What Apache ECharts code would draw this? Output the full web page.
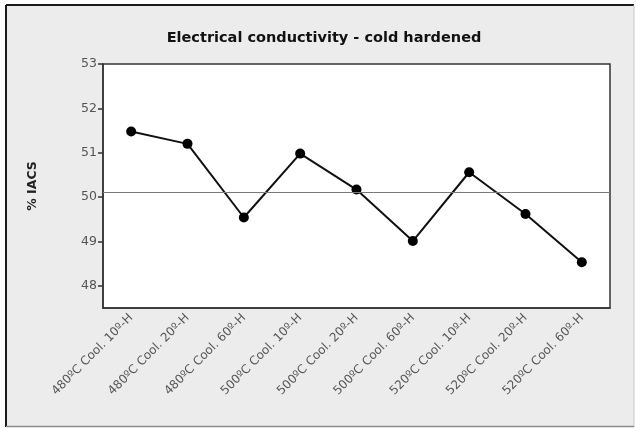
<!DOCTYPE html>
<html>
<head>
<meta charset="utf-8">
<script src="https://cdn.jsdelivr.net/npm/echarts@6/dist/echarts.min.js"></script>
<style>
  html, body { margin: 0; padding: 0; background: #ffffff; }
  #chart { width: 636px; height: 428px; }
</style>
</head>
<body>
<div id="chart"></div>
<script>
// Heat treatment variants (temperature, cooling, hold time)
const categories = [
  '480ºC Cool. 10º-H', '480ºC Cool. 20º-H', '480ºC Cool. 60º-H',
  '500ºC Cool. 10º-H', '500ºC Cool. 20º-H', '500ºC Cool. 60º-H',
  '520ºC Cool. 10º-H', '520ºC Cool. 20º-H', '520ºC Cool. 60º-H'
];
// Electrical conductivity, % IACS
const conductivity = [51.48, 51.20, 49.54, 50.98, 50.17, 49.01, 50.56, 49.62, 48.53];
// Y axis tick values
const yTicks = [48, 49, 50, 51, 52, 53];

const FONT = 'DejaVu Sans';
const chart = echarts.init(document.getElementById('chart'), null, { renderer: 'canvas' });

chart.setOption({
  animation: false,
  backgroundColor: '#ffffff',
  graphic: [
    // panel background and frame
    { type: 'rect', z: -10, shape: { x: 6, y: 5, width: 628, height: 422 },
      style: { fill: '#ececec', stroke: null } },
    { type: 'line', z: 10, shape: { x1: 6, y1: 5, x2: 634, y2: 5 }, style: { stroke: '#1a1a1a', lineWidth: 2 } },
    { type: 'line', z: 10, shape: { x1: 6, y1: 5, x2: 6, y2: 427 }, style: { stroke: '#1a1a1a', lineWidth: 2 } },
    { type: 'line', z: 10, shape: { x1: 634, y1: 5, x2: 634, y2: 427 }, style: { stroke: '#c8c8c8', lineWidth: 1 } },
    { type: 'line', z: 10, shape: { x1: 6, y1: 426.5, x2: 634, y2: 426.5 }, style: { stroke: '#8a8a8a', lineWidth: 1.5 } },
    { type: 'text', x: 324, y: 38, style: {
        text: 'Electrical conductivity - cold hardened',
        fontFamily: FONT, fontWeight: 'bold', fontSize: 14.5, fill: '#111',
        textAlign: 'center', textVerticalAlign: 'middle' } }
  ],
  grid: {
    left: 103, right: 26, top: 64, bottom: 120,
    show: true, backgroundColor: '#ffffff', borderColor: '#333', borderWidth: 1.5
  },
  xAxis: {
    type: 'category',
    data: categories,
    boundaryGap: true,
    axisLine: { lineStyle: { color: '#333', width: 1.5 } },
    axisTick: { alignWithLabel: true, length: 5, lineStyle: { color: '#333', width: 1.5 } },
    axisLabel: {
      interval: 0, rotate: 45, margin: 8,
      fontFamily: FONT, fontSize: 12, color: '#555'
    },
    splitLine: { show: false }
  },
  yAxis: {
    type: 'value',
    min: 47.5, max: 53,
    name: '% IACS',
    nameLocation: 'middle',
    nameGap: 64,
    nameRotate: 90,
    nameTextStyle: { fontFamily: FONT, fontWeight: 'bold', fontSize: 12.5, color: '#222' },
    axisLine: { show: true, lineStyle: { color: '#333', width: 1.5 } },
    axisTick: { show: true, length: 5, customValues: yTicks, lineStyle: { color: '#333', width: 1.5 } },
    axisLabel: { customValues: yTicks, margin: 6, fontFamily: FONT, fontSize: 12.5, color: '#555' },
    splitLine: { show: false }
  },
  series: [{
    type: 'line',
    data: conductivity,
    symbol: 'circle',
    symbolSize: 10,
    itemStyle: { color: '#000' },
    lineStyle: { color: '#111', width: 2 },
    markLine: {
      silent: true,
      symbol: ['none', 'none'],
      label: { show: false },
      lineStyle: { color: '#7a7a7a', width: 1.2, type: 'solid' },
      data: [{ type: 'average' }]
    }
  }]
});
</script>
</body>
</html>
